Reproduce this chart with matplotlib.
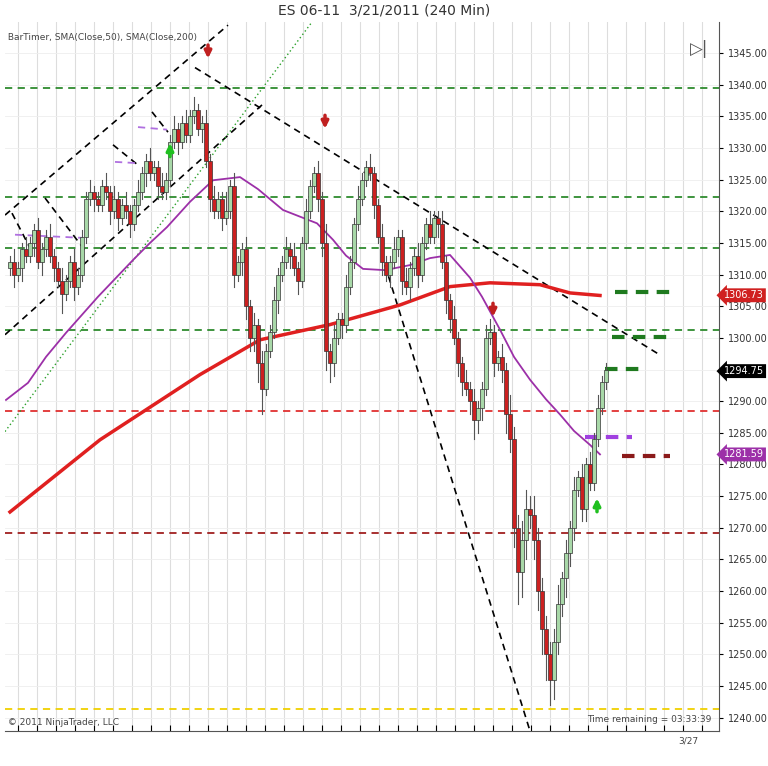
import matplotlib
matplotlib.use("Agg")
import matplotlib.pyplot as plt
import numpy as np
from matplotlib.patches import Rectangle

closes = [1312,1310,1311,1314,1313, 1315,1317,1312,1314,1316, 1313,1311,1309,1307,1309,
          1312,1308,1310,1316,1322, 1323,1322,1321,1324,1323, 1320,1322,1319,1321,1320,
          1318,1321,1323,1326,1328, 1326,1327,1324,1323,1325, 1331,1333,1331,1334,1332,
          1335,1336,1333,1334,1328, 1322,1320,1322,1319,1320, 1324,1310,1312,1314,1305,
          1300,1302,1296,1292,1298, 1301,1306,1310,1312,1314, 1313,1311,1309,1315,1320,
          1324,1326,1322,1315,1298, 1296,1300,1303,1302,1308, 1312,1318,1322,1325,1327,
          1326,1321,1316,1312,1310, 1312,1314,1316,1309,1308, 1311,1313,1310,1315,1318,
          1316,1319,1318,1312,1306, 1303,1300,1296,1293,1292, 1290,1287,1289,1292,1300,
          1301,1296,1297,1295,1288, 1284,1270,1263,1268,1273, 1272,1268,1260,1254,1250,
          1246,1252,1258,1262,1266, 1270,1276,1278,1273,1280, 1277,1284,1289,1293,1295]
wick_up = [1,2,1,1,2, 1,1,2,1,1, 2,1,1,2,1, 1,2,1,1,1, 2,1,1,1,2, 1,2,1,1,2,
           1,1,2,1,1, 2,1,1,2,1, 1,2,1,1,2, 1,2,1,1,2, 1,2,1,1,3, 1,2,1,1,2,
           1,2,1,2,1, 1,2,1,1,2, 1,2,1,1,2, 1,1,2,1,3, 1,2,1,1,2, 1,1,2,1,1,
           2,1,1,2,1, 1,2,1,1,2, 1,1,2,1,1, 2,1,1,2,1, 1,2,1,1,2, 1,2,1,1,2,
           2,1,1,2,1, 3,2,2,3,3, 2,3,2,2,2, 2,2,3,1,2, 1,2,1,2,1, 2,1,2,1,1]
wick_dn = [1,2,1,2,1, 1,2,1,2,1, 1,2,1,3,1, 1,2,1,1,1, 1,2,1,1,1, 2,1,2,1,1,
           2,1,1,1,2, 1,1,2,1,1, 1,1,2,1,1, 1,1,1,2,1, 2,1,1,2,1, 1,2,1,2,2,
           2,2,3,4,1, 1,1,2,1,1, 2,1,2,1,1, 1,1,2,2,3, 3,2,1,2,1, 1,1,1,1,1,
           1,2,1,2,1, 2,1,1,2,1, 2,1,2,1,1, 1,1,2,1,2, 2,1,2,2,1, 2,3,2,2,1,
           1,2,1,2,3, 2,3,5,4,3, 2,3,3,4,4, 4,3,2,2,3, 2,2,1,2,2, 1,1,1,1,1]

sma50_x = [-1,4.5,9,14,22,30.75,35,39.25,45,50.75,57.5,62,68.25,76.75,80.75,84,88.25,93.75,100,105,110,115,118,122.5,126,130,134,137.5,141,145,147.5]
sma50_y = [1290.2,1292.9,1297,1300.8,1306.5,1312.3,1315,1317.5,1321.5,1324.9,1325.4,1323.5,1320.2,1318.1,1315.5,1313,1310.9,1310.7,1311.5,1312.6,1313.1,1309.5,1306.5,1301.3,1297,1293.4,1290.3,1287.9,1285.3,1283.1,1281.6]
sma200_x = [0,22.5,47.5,62.5,80,97.5,110,120,132.5,140,147.5]
sma200_y = [1272.5,1283.9,1294.2,1299.7,1302.1,1305.2,1308.1,1308.7,1308.4,1307.1,1306.7]

hlines = [(1339.5,'#2e8b2e'),(1322.3,'#2e8b2e'),(1314.2,'#2e8b2e'),(1301.3,'#2e8b2e'),
          (1288.5,'#e03030'),(1269.2,'#a02020'),(1241.4,'#f0d000')]
diag_lines = [((-1.25,54.5),(1319.4,1349.4)),((-1.25,63),(1300.5,1336.8)),
              ((46.25,162.5),(1342.7,1297.3)),((93.75,130),(1311.5,1237.9)),
              ((0.5,5),(1319.7,1314.2)),((8.75,19.25),(1322.1,1313.4)),
              ((25.75,32),(1330.5,1327.3)),((35.5,39.5),(1335.7,1332.5))]
purple_segs = [((1.25,18.25),(1316.3,1315.8)),((26.25,32),(1327.8,1327.6)),((32,39.25),(1333.3,1332.9))]
thick_segs = [((151.25,166.75),1307.3,'#1f7a1f'),((150.5,165),1300.2,'#1f7a1f'),
              ((148.75,158.75),1295.1,'#1f7a1f'),((143.75,155.5),1284.4,'#a040e0'),
              ((153,165),1281.4,'#8b1a1a')]
down_arrows = [(49.5,1345.2),(78.75,1334.1),(120.75,1304.4)]
up_arrows = [(40,1329.7),(146.75,1273.6)]
yticks = list(range(1240,1350,5))

fig = plt.figure(figsize=(7.68,7.66), dpi=100)
ax = fig.add_axes([5/768, 1-731/766, 714/768, 709/766])
ax.set_xlim(-1.25,177.25); ax.set_ylim(1237.9,1349.9)
for g in np.arange(2,177,4.75):
    ax.axvline(g, color='#dddddd', lw=0.8, zorder=0)
for t in yticks:
    ax.axhline(t, color='#eeeeee', lw=0.6, zorder=0)
for y,c in hlines:
    ax.axhline(y, color=c, lw=1.3, ls=(0,(4,3)), zorder=1)
for xs,ys in diag_lines:
    ax.plot(xs, ys, color='black', lw=1.2, ls=(0,(4,3)), zorder=2)
ax.plot([-1.25,75.5],[1285.2,1349.9], color='#2aa02a', lw=1, ls=(0,(1,2)), zorder=2)
for xs,ys in purple_segs:
    ax.plot(xs, ys, color='#b070e0', lw=1.3, ls=(0,(4,3)), zorder=2)
for xs,y,c in thick_segs:
    ax.plot(xs,[y,y], color=c, lw=3, ls=(0,(3,2)), zorder=2)
ax.plot(sma200_x, sma200_y, color='#e02020', lw=2.5, zorder=3)
ax.plot(sma50_x, sma50_y, color='#9c30a8', lw=1.3, zorder=3)

prev = closes[0]
for i,c in enumerate(closes):
    o = prev if i > 0 else 1311
    hi = max(o,c)+wick_up[i]; lo = min(o,c)-wick_dn[i]
    up = c >= o
    ax.plot([i,i],[lo,hi], color='#555555', lw=0.8, zorder=4)
    ax.add_patch(Rectangle((i-0.38, min(o,c)), 0.76, max(abs(c-o),0.25),
                 facecolor='#a8d8a8' if up else '#cc2020', edgecolor='#333333', lw=0.5, zorder=5))
    prev = c

for x,y in down_arrows:
    ax.annotate('', xy=(x,y-1.5), xytext=(x,y+1.5),
                arrowprops=dict(arrowstyle='-|>', color='#c02020', lw=2.5, mutation_scale=10), zorder=6)
for x,y in up_arrows:
    ax.annotate('', xy=(x,y+1.5), xytext=(x,y-1.5),
                arrowprops=dict(arrowstyle='-|>', color='#20c020', lw=2.5, mutation_scale=10), zorder=6)

ax.yaxis.tick_right()
ax.set_yticks(yticks)
ax.set_yticklabels(["" if t == 1295 else f"{t:.2f}" for t in yticks], fontsize=7, color='#333333')
ax.tick_params(axis='y', length=3)
ax.set_xticks(np.arange(2,177,4.75)); ax.set_xticklabels([])
ax.tick_params(axis='x', length=4, direction='in')
for s in ['top','left']:
    ax.spines[s].set_visible(False)
ax.spines['right'].set_color('#555555'); ax.spines['bottom'].set_color('#555555')

for val,fc,tc in [(1306.73,'#d02020','white'),(1294.75,'black','white'),(1281.59,'#9c30a8','white')]:
    ax.text(178.5, val, f"{val:.2f}", fontsize=7, color=tc, va='center', ha='left',
            bbox=dict(boxstyle='larrow,pad=0.2', fc=fc, ec='none'), clip_on=False, zorder=7)

fig.text(0.5, 1-11/766, "ES 06-11  3/21/2011 (240 Min)", ha='center', va='center', fontsize=10, color='#333333')
ax.text(0.0, 0.985, " BarTimer, SMA(Close,50), SMA(Close,200)", transform=ax.transAxes, fontsize=6.5, color='#444444', va='top')
ax.text(0.0, 0.005, " © 2011 NinjaTrader, LLC", transform=ax.transAxes, fontsize=6.5, color='#444444', va='bottom')
ax.text(0.99, 0.01, "Time remaining = 03:33:39", transform=ax.transAxes, fontsize=6.5, color='#444444', va='bottom', ha='right')
fig.text(688/768, 1-741/766, "3/27", fontsize=6.5, color='#444444', ha='center', va='center')
ax.text(0.985, 0.975, "▷|", transform=ax.transAxes, fontsize=12, color='#555555', ha='right', va='top')

fig.savefig("out.png", dpi=100, facecolor='white')
